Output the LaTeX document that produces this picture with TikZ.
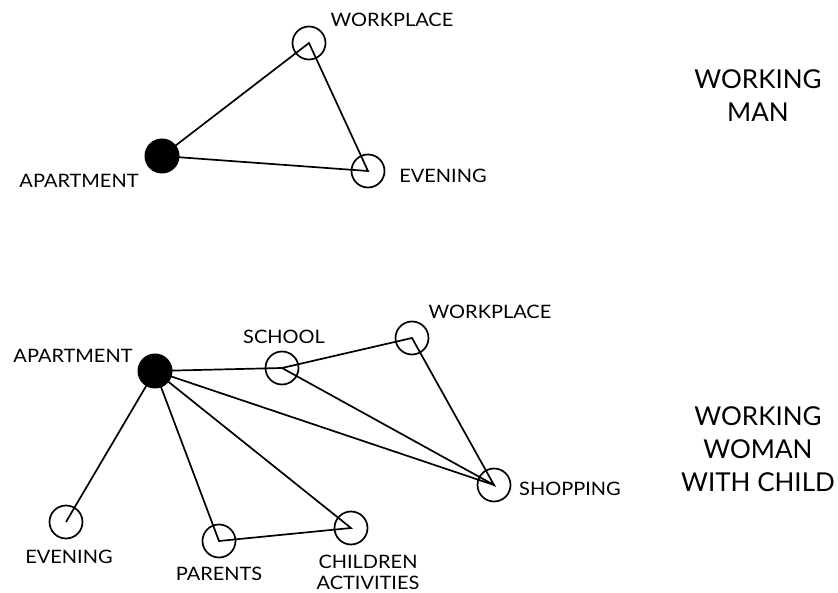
\documentclass[tikz,border=0pt]{standalone}
\usepackage{fontspec}
\setmainfont{Lato}
\newfontfamily\lblfont{Lato}[FakeStretch=1.08]
\begin{document}
\begin{tikzpicture}[x=1pt,y=-1pt,
  place/.style={circle,draw=black,line width=1.7pt,minimum size=33pt,inner sep=0pt},
  home/.style={circle,fill=black,minimum size=35pt,inner sep=0pt},
  lbl/.style={font=\lblfont\fontsize{18.5}{21}\selectfont,inner sep=0pt,align=center},
  big/.style={font=\fontsize{26}{33}\selectfont,inner sep=0pt,align=center},
  link/.style={line width=1.7pt,line join=miter}]
\useasboundingbox (0,0) rectangle (838,593);
% top group
\node[home] (A1) at (162,156) {};
\node[place] (W1) at (309,43) {};
\node[place] (E1) at (368,171) {};
\draw[link] (A1.center) -- (W1.center) -- (E1.center) -- cycle;
\node[lbl] (lA1) at (79,181) {APARTMENT};
\node[lbl] (lW1) at (392,20) {WORKPLACE};
\node[lbl] (lE1) at (443,176) {EVENING};
\node[big] (t1) at (758,96) {WORKING\\MAN};
% bottom group
\node[home] (A2) at (155,371) {};
\node[place] (S2) at (282,368) {};
\node[place] (W2) at (412,338) {};
\node[place] (P2) at (494,485) {};
\node[place] (E2) at (66,522) {};
\node[place] (R2) at (219,541) {};
\node[place] (C2) at (351,528) {};
\draw[link] (A2.center) -- (S2.center);
\draw[link] (S2.center) -- (W2.center) -- (P2.center) -- (S2.center);
\draw[link] (A2.center) -- (P2.center);
\draw[link] (A2.center) -- (E2.center);
\draw[link] (A2.center) -- (R2.center) -- (C2.center) -- (A2.center);
\node[lbl] (lA2) at (73,356) {APARTMENT};
\node[lbl] (lS2) at (284,337) {SCHOOL};
\node[lbl] (lW2) at (490,312) {WORKPLACE};
\node[lbl] (lP2) at (570,489) {SHOPPING};
\node[lbl] (lE2) at (69,557) {EVENING};
\node[lbl] (lR2) at (219,574) {PARENTS};
\node[lbl] (lC2) at (368,572) {CHILDREN\\ACTIVITIES};
\node[big] (t2) at (758,449) {WORKING\\WOMAN\\WITH CHILD};
\end{tikzpicture}
\end{document}
